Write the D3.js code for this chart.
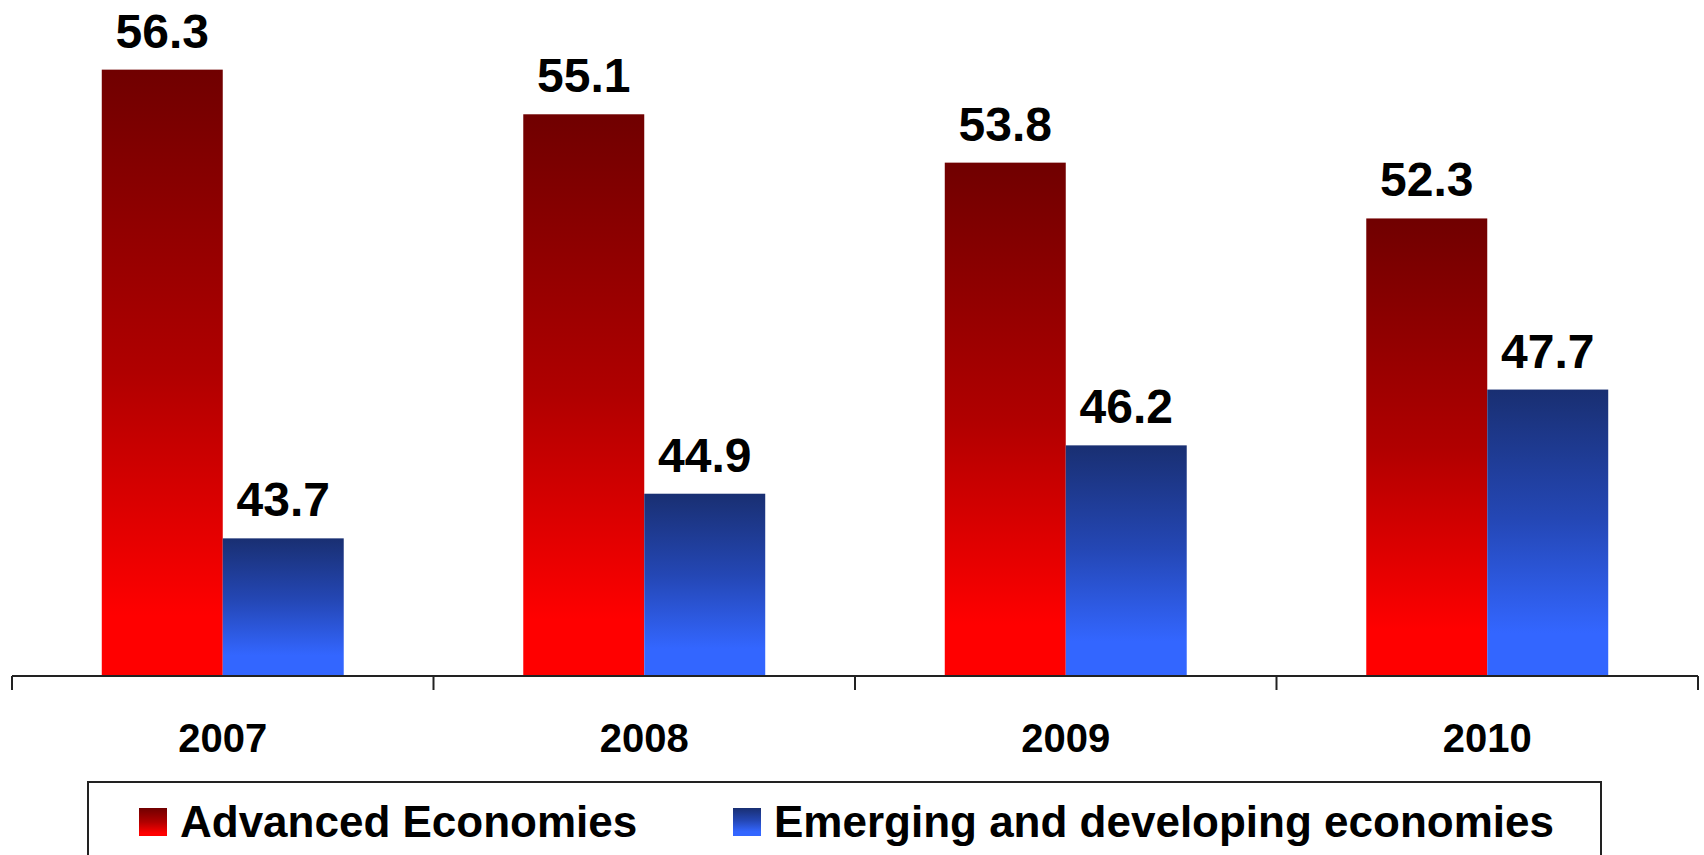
<!DOCTYPE html>
<html>
<head>
<meta charset="utf-8">
<script src="https://cdn.jsdelivr.net/npm/d3@7"></script>
<style>
  html, body { margin: 0; padding: 0; background: #fff; }
  svg { display: block; }
  text { font-family: "Liberation Sans", Arial, sans-serif; font-weight: bold; fill: #000; }
</style>
</head>
<body>
<svg id="chart" width="1704" height="855"></svg>
<script>
const years = ["2007", "2008", "2009", "2010"];
const seriesNames = ["Advanced Economies", "Emerging and developing economies"];
const advanced = [56.3, 55.1, 53.8, 52.3];
const emerging = [43.7, 44.9, 46.2, 47.7];

const seriesValues = [advanced, emerging];
const gradIds = ["gradRed", "gradBlue"];

const svg = d3.select("#chart");
const axisY = 676;

const defs = svg.append("defs");
const red = defs.append("linearGradient").attr("id", "gradRed")
  .attr("x1", 0).attr("y1", 0).attr("x2", 0).attr("y2", 1);
red.append("stop").attr("offset", "0%").attr("stop-color", "#700000");
red.append("stop").attr("offset", "50%").attr("stop-color", "#b00000");
red.append("stop").attr("offset", "90%").attr("stop-color", "#ff0000");
red.append("stop").attr("offset", "100%").attr("stop-color", "#ff0000");
const blue = defs.append("linearGradient").attr("id", "gradBlue")
  .attr("x1", 0).attr("y1", 0).attr("x2", 0).attr("y2", 1);
blue.append("stop").attr("offset", "0%").attr("stop-color", "#192f72");
blue.append("stop").attr("offset", "45%").attr("stop-color", "#2447b5");
blue.append("stop").attr("offset", "85%").attr("stop-color", "#3366ff");
blue.append("stop").attr("offset", "100%").attr("stop-color", "#3366ff");

const x = d3.scaleBand().domain(years).range([12, 1698]).paddingInner(0).paddingOuter(0);
const x1 = d3.scaleBand().domain(seriesNames).range([0, x.bandwidth()])
  .paddingInner(0).paddingOuter(0.742);
const y = d3.scaleLinear().domain([40, 58]).range([axisY, axisY - 18 * 37.2]);

const groups = svg.append("g").selectAll("g")
  .data(years).join("g")
  .attr("transform", d => `translate(${x(d)},0)`);

groups.each(function(yr, i) {
  const g = d3.select(this);
  seriesNames.forEach((s, k) => {
    const v = seriesValues[k][i];
    g.append("rect")
      .attr("x", x1(s))
      .attr("y", y(v))
      .attr("width", x1.bandwidth())
      .attr("height", axisY - y(v))
      .attr("fill", `url(#${gradIds[k]})`);
    g.append("text")
      .attr("x", x1(s) + x1.bandwidth() / 2)
      .attr("y", y(v) - 22)
      .attr("text-anchor", "middle")
      .attr("font-size", 48)
      .text(v.toFixed(1));
  });
});

// X axis
const axisG = svg.append("g").attr("transform", `translate(0,${axisY})`);
const axis = d3.axisBottom(x).tickSize(0).tickSizeOuter(0).tickFormat("");
axisG.call(axis);
axisG.select(".domain").attr("stroke", "#222").attr("stroke-width", 2).attr("d", `M12,0H1698`);
const boundaries = years.map(d => x(d)).concat([x(years[years.length - 1]) + x.bandwidth()]);
axisG.selectAll("line.sep").data(boundaries).join("line")
  .attr("class", "sep")
  .attr("x1", d => d).attr("x2", d => d)
  .attr("y1", 0).attr("y2", 14)
  .attr("stroke", "#222").attr("stroke-width", 2);

svg.append("g").selectAll("text").data(years).join("text")
  .attr("x", d => x(d) + x.bandwidth() / 2)
  .attr("y", 752)
  .attr("text-anchor", "middle")
  .attr("font-size", 40)
  .text(d => d);

// Legend
const leg = svg.append("g");
leg.append("rect")
  .attr("x", 88).attr("y", 782).attr("width", 1513).attr("height", 100)
  .attr("fill", "none").attr("stroke", "#222").attr("stroke-width", 2);
const legX = [139, 733];
seriesNames.forEach((s, k) => {
  leg.append("rect")
    .attr("x", legX[k]).attr("y", 808).attr("width", 28).attr("height", 28)
    .attr("fill", `url(#${gradIds[k]})`);
  leg.append("text")
    .attr("x", legX[k] + 41).attr("y", 837)
    .attr("font-size", 44)
    .text(s);
});
</script>
</body>
</html>
